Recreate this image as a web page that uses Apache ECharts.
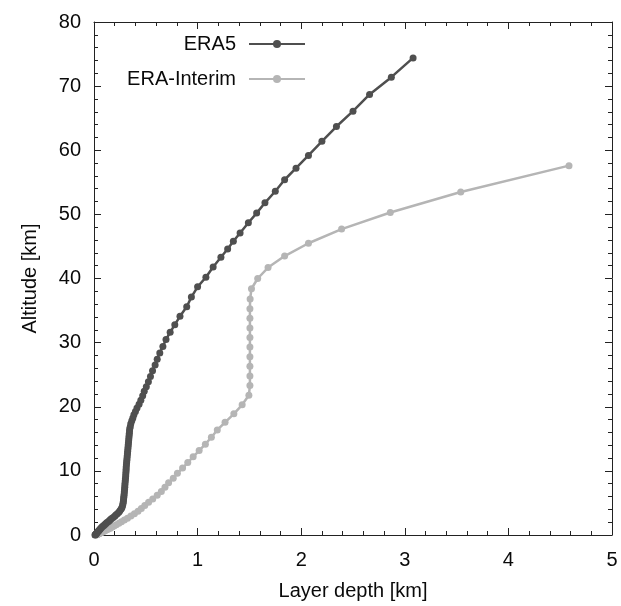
<!DOCTYPE html>
<html>
<head>
<meta charset="utf-8">
<script src="https://cdn.jsdelivr.net/npm/echarts@6/dist/echarts.min.js"></script>
<style>
html,body{margin:0;padding:0;background:#fff;}
#chart{width:621px;height:606px;}
</style>
</head>
<body>
<div id="chart"></div>
<script>
// ERA5: altitude [km] and layer depth [km]
var era5Alt = [0.01,0.04,0.09,0.17,0.27,0.37,0.5,0.63,0.75,0.9,1.05,1.2,1.35,1.5,1.65,1.8,1.95,2.1,2.25,2.4,2.56,2.73,2.92,3.12,3.33,3.56,3.8,4.05,4.3,4.6,4.9,5.2,5.5,5.8,6.1,6.4,6.75,7.1,7.45,7.8,8.15,8.5,8.85,9.2,9.55,9.9,10.25,10.6,10.95,11.3,11.65,12.0,12.35,12.7,13.05,13.4,13.75,14.1,14.45,14.8,15.15,15.5,15.85,16.2,16.55,16.9,17.35,17.8,18.25,18.75,19.25,19.8,20.4,21.0,21.7,22.4,23.1,23.9,24.7,25.6,26.5,27.4,28.4,29.4,30.5,31.6,32.8,34.1,35.6,37.1,38.7,40.2,41.8,43.3,44.6,45.8,47.1,48.7,50.2,51.8,53.6,55.4,57.2,59.2,61.4,63.7,66.1,68.7,71.4,74.4];
var era5Depth = [0.01,0.012,0.015,0.02,0.025,0.03,0.036,0.044,0.05,0.058,0.066,0.075,0.085,0.095,0.105,0.115,0.125,0.14,0.15,0.16,0.17,0.185,0.2,0.21,0.225,0.24,0.25,0.262,0.27,0.276,0.28,0.283,0.285,0.287,0.289,0.291,0.293,0.295,0.297,0.298,0.3,0.302,0.304,0.306,0.307,0.309,0.31,0.311,0.313,0.315,0.317,0.319,0.321,0.323,0.325,0.327,0.329,0.331,0.333,0.335,0.337,0.339,0.341,0.343,0.345,0.35,0.355,0.365,0.375,0.385,0.4,0.415,0.435,0.452,0.47,0.485,0.505,0.525,0.545,0.565,0.59,0.61,0.635,0.665,0.695,0.735,0.78,0.83,0.895,0.94,1.0,1.08,1.15,1.225,1.29,1.345,1.41,1.49,1.57,1.65,1.75,1.84,1.95,2.07,2.2,2.34,2.5,2.66,2.87,3.08];

// ERA-Interim: altitude [km] and layer depth [km]
var eraiAlt = [0.01,0.03,0.055,0.085,0.12,0.16,0.2,0.25,0.3,0.36,0.43,0.5,0.59,0.69,0.8,0.93,1.07,1.23,1.4,1.6,1.82,2.06,2.33,2.63,2.96,3.32,3.71,4.14,4.6,5.09,5.62,6.19,6.8,7.45,8.14,8.86,9.63,10.43,11.29,12.2,13.16,14.17,15.25,16.38,17.57,18.9,20.3,21.8,23.3,24.8,26.3,27.8,29.3,30.8,32.3,33.8,35.3,36.8,38.4,40.0,41.7,43.5,45.5,47.7,50.3,53.5,57.6];
var eraiDepth = [0.02,0.024,0.027,0.031,0.036,0.041,0.046,0.052,0.059,0.067,0.076,0.085,0.097,0.11,0.124,0.14,0.158,0.175,0.193,0.215,0.24,0.265,0.293,0.323,0.356,0.39,0.425,0.457,0.49,0.527,0.567,0.61,0.65,0.685,0.72,0.765,0.805,0.855,0.905,0.957,1.015,1.075,1.133,1.19,1.265,1.35,1.43,1.495,1.505,1.505,1.505,1.505,1.505,1.505,1.505,1.505,1.505,1.507,1.52,1.58,1.68,1.84,2.07,2.39,2.86,3.54,4.585];

var seriesNames = ['ERA5', 'ERA-Interim'];
var xTicks = [0, 1, 2, 3, 4, 5];
var yTicks = [0, 10, 20, 30, 40, 50, 60, 70, 80];

function pairs(xs, ys) { return xs.map(function (x, i) { return [x, ys[i]]; }); }

var FONT = 'Liberation Sans, Arial, sans-serif';
var AX = '#222';
var TXT = '#0a0a0a';

function axisBase(show) {
  return {
    axisLine: { show: true, onZero: false, lineStyle: { color: AX, width: 1 } },
    axisTick: { show: true, inside: true, length: 7, lineStyle: { color: AX, width: 1 } },
    minorTick: { show: true, splitNumber: 5, length: 4, lineStyle: { color: AX, width: 1 } },
    splitLine: { show: false },
    axisLabel: { show: show, color: TXT, fontSize: 20, fontFamily: FONT }
  };
}

var chart = echarts.init(document.getElementById('chart'), null, { renderer: 'canvas' });
var xMain = Object.assign(axisBase(true), {
  type: 'value', position: 'bottom', min: xTicks[0], max: xTicks[xTicks.length - 1], interval: 1,
  name: 'Layer depth [km]', nameLocation: 'middle', nameGap: 46,
  nameTextStyle: { color: TXT, fontSize: 20, fontFamily: FONT }
});
xMain.axisLabel.margin = 15;
var xTop = Object.assign(axisBase(false), {
  type: 'value', position: 'top', min: xTicks[0], max: xTicks[xTicks.length - 1], interval: 1
});
var yMain = Object.assign(axisBase(true), {
  type: 'value', position: 'left', min: yTicks[0], max: yTicks[yTicks.length - 1], interval: 10,
  name: 'Altitude [km]', nameLocation: 'middle', nameGap: 54,
  nameTextStyle: { color: TXT, fontSize: 20, fontFamily: FONT }
});
yMain.axisLabel.margin = 13;
var yRight = Object.assign(axisBase(false), {
  type: 'value', position: 'right', min: yTicks[0], max: yTicks[yTicks.length - 1], interval: 10
});

var DARK = '#4f4f4f', LIGHT = '#b5b5b5';

chart.setOption({
  animation: false,
  backgroundColor: '#fff',
  grid: { left: 94, right: 9, top: 22, bottom: 65, containLabel: false },
  legend: [
    { data: [seriesNames[0]], right: 315, top: 34, orient: 'horizontal', align: 'right',
      itemWidth: 56, itemHeight: 10, itemGap: 0, padding: 0,
      textStyle: { color: TXT, fontSize: 20, fontFamily: FONT, padding: [0, 8, 0, 0] } },
    { data: [seriesNames[1]], right: 315, top: 69, orient: 'horizontal', align: 'right',
      itemWidth: 56, itemHeight: 10, itemGap: 0, padding: 0,
      textStyle: { color: TXT, fontSize: 20, fontFamily: FONT, padding: [0, 8, 0, 0] } }
  ],
  xAxis: [xMain, xTop],
  yAxis: [yMain, yRight],
  series: [
    { name: seriesNames[1], type: 'line', xAxisIndex: 0, yAxisIndex: 0,
      data: pairs(eraiDepth, eraiAlt), symbol: 'circle', symbolSize: 7, showAllSymbol: true,
      lineStyle: { color: LIGHT, width: 2.5 }, itemStyle: { color: LIGHT } },
    { name: seriesNames[0], type: 'line', xAxisIndex: 0, yAxisIndex: 0,
      data: pairs(era5Depth, era5Alt), symbol: 'circle', symbolSize: 7, showAllSymbol: true,
      lineStyle: { color: DARK, width: 2.5 }, itemStyle: { color: DARK } }
  ]
});
</script>
</body>
</html>
